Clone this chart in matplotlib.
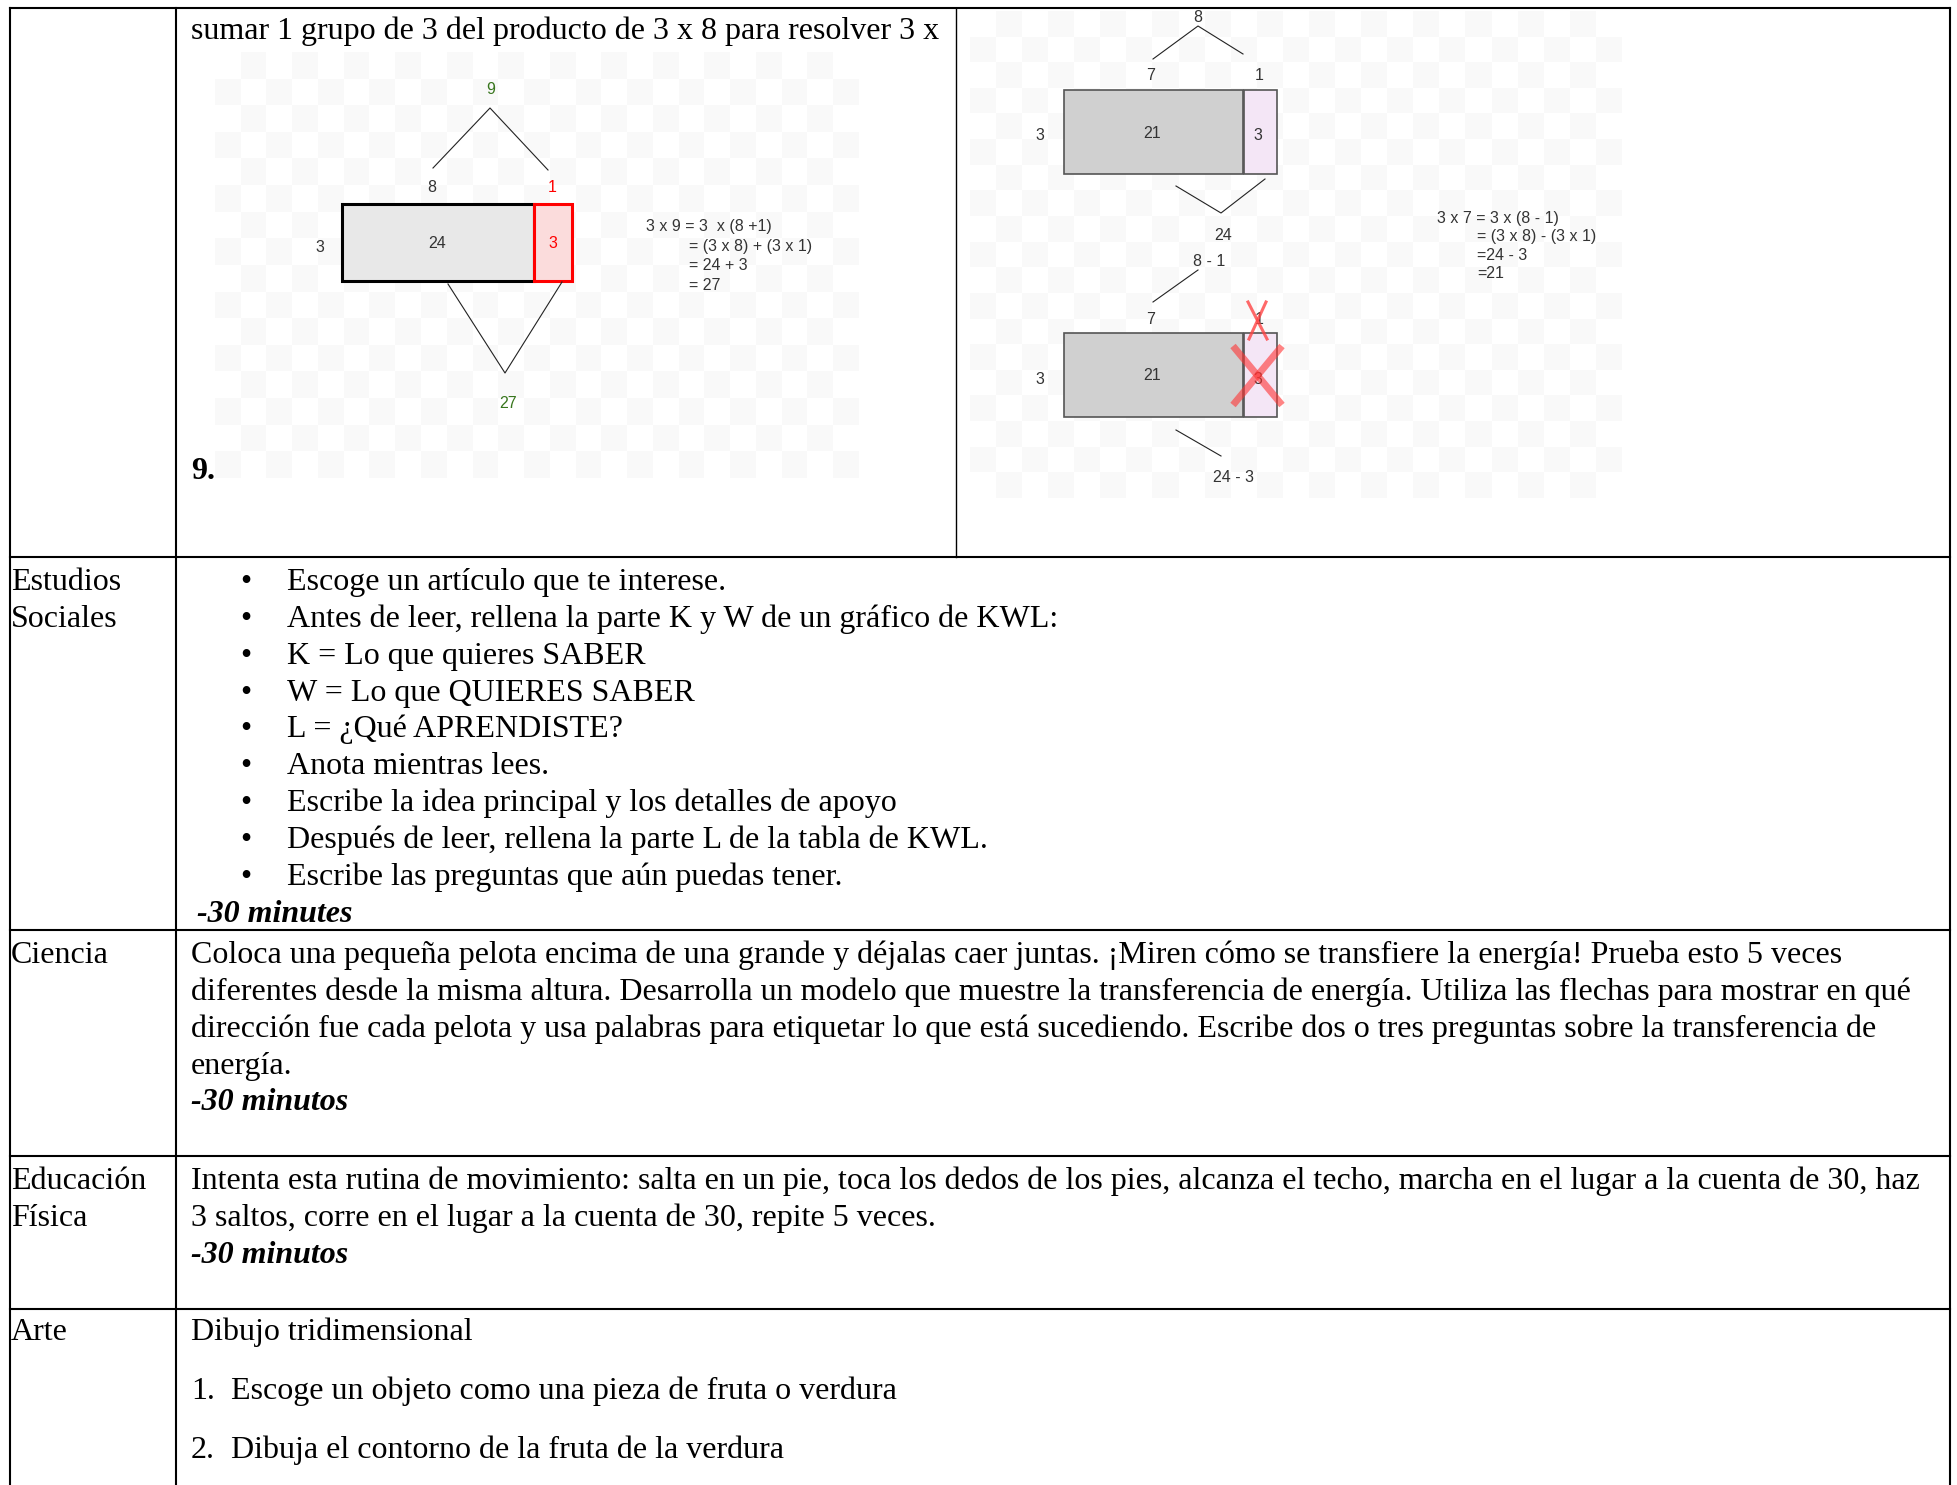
import numpy as np
import matplotlib.pyplot as plt
from matplotlib.colors import ListedColormap
from matplotlib.patches import Rectangle

'''Page content'''

subjects = [["Estudios", "Sociales"], ["Ciencia"], ["Educación", "Física"], ["Arte"]]

math_intro = "sumar 1 grupo de 3 del producto de 3 x 8 para resolver 3 x"
math_number = "9."

social_bullets = [
    "Escoge un artículo que te interese.",
    "Antes de leer, rellena la parte K y W de un gráfico de KWL:",
    "K = Lo que quieres SABER",
    "W = Lo que QUIERES SABER",
    "L = ¿Qué APRENDISTE?",
    "Anota mientras lees.",
    "Escribe la idea principal y los detalles de apoyo",
    "Después de leer, rellena la parte L de la tabla de KWL.",
    "Escribe las preguntas que aún puedas tener.",
]
social_time = "-30 minutes"

science_lines = [
    "Coloca una pequeña pelota encima de una grande y déjalas caer juntas. ¡Miren cómo se transfiere la energía! Prueba esto 5 veces",
    "diferentes desde la misma altura. Desarrolla un modelo que muestre la transferencia de energía. Utiliza las flechas para mostrar en qué",
    "dirección fue cada pelota y usa palabras para etiquetar lo que está sucediendo. Escribe dos o tres preguntas sobre la transferencia de",
    "energía.",
]
science_time = "-30 minutos"

pe_lines = [
    "Intenta esta rutina de movimiento: salta en un pie, toca los dedos de los pies, alcanza el techo, marcha en el lugar a la cuenta de 30, haz",
    "3 saltos, corre en el lugar a la cuenta de 30, repite 5 veces.",
]
pe_time = "-30 minutos"

art_title = "Dibujo tridimensional"
art_steps = ["Escoge un objeto como una pieza de fruta o verdura",
             "Dibuja el contorno de la fruta de la verdura"]

# left diagram: 3 x 9 = 3 x (8 + 1)
add_side = "3"
add_whole = "9"
add_parts = ["8", "1"]
add_products = ["24", "3"]
add_total = "27"
add_eq = ["3 x 9 = 3  x (8 +1)", "= (3 x 8) + (3 x 1)", "= 24 + 3", "= 27"]

# right diagram: 3 x 7 = 3 x (8 - 1)
sub_side = "3"
sub_whole = "8"
sub_parts = ["7", "1"]
sub_products = ["21", "3"]
sub_sum = "24"
sub_diff = "8 - 1"
sub_result = "24 - 3"
sub_eq = ["3 x 7 = 3 x (8 - 1)", "= (3 x 8) - (3 x 1)", "=24 - 3", "=21"]

'''End page content'''

W, H = 1958, 1485
SERIF = ["Liberation Serif", "DejaVu Serif"]
SANS = ["Liberation Sans", "DejaVu Sans"]
FS = 23        # body text size
DFS = 11.5     # diagram text size
LINE = 36.84   # body line spacing (px)
INK = "#333333"


def body(ax, x, y, s, **kw):
    ax.text(x, y, s, family=SERIF, fontsize=FS, va="baseline", ha="left", **kw)


def small(ax, x, y, s, color=INK, ha="center"):
    ax.text(x, y, s, family=SANS, fontsize=DFS, va="center", ha=ha, color=color)


# faint transparency checkerboard behind the pasted images
def checker(ax, x0, x1, y0, y1, cell=26):
    nx = max(1, round((x1 - x0) / cell))
    ny = max(1, round((y1 - y0) / cell))
    grid = np.indices((ny, nx)).sum(axis=0) % 2
    ax.imshow(grid, cmap=ListedColormap(["#ffffff", "#f9f9f9"]), interpolation="nearest",
              extent=[x0, x1, y1, y0], aspect="auto", zorder=0)


def main():
    fig = plt.figure(figsize=(W / 100, H / 100), dpi=100)
    ax = fig.add_axes([0, 0, 1, 1])

    # ---- maths row images ----
    checker(ax, 215, 859, 52, 478)
    checker(ax, 970, 1622, 11, 498)

    ax.set_xlim(0, W)
    ax.set_ylim(H, 0)
    ax.axis("off")

    # table grid
    for y in [8, 557, 930, 1156, 1309]:
        ax.plot([10, 1950], [y, y], color="black", lw=1.5, zorder=5)
    for x in [10, 176, 1950]:
        ax.plot([x, x], [8, H], color="black", lw=1.5, zorder=5)
    ax.plot([956, 956], [8, 557], color="black", lw=1.0, zorder=5)

    # subject labels
    label_rows = [590, 963, 1189, 1340]
    for lines, y in zip(subjects, label_rows):
        for i, s in enumerate(lines):
            body(ax, 11, y + i * LINE, s)

    body(ax, 191, 39, math_intro)
    body(ax, 191, 479, math_number, weight="bold")

    # left diagram
    ax.add_patch(Rectangle((342, 204), 192, 77, facecolor="#e8e8e8", edgecolor="black", lw=2.2, zorder=2))
    ax.add_patch(Rectangle((534, 204), 38, 77, facecolor="#fbdcdc", edgecolor="#ff0000", lw=2.2, zorder=2))
    ax.plot([433, 490, 548], [168, 108, 170], color="#222222", lw=0.8, zorder=2)
    ax.plot([448, 505, 562], [284, 373, 282], color="#222222", lw=0.8, zorder=2)
    small(ax, 491, 90, add_whole, color="#38761d")
    small(ax, 432, 187, add_parts[0])
    small(ax, 552, 187, add_parts[1], color="#ff0000")
    small(ax, 320, 247, add_side)
    small(ax, 437, 243, add_products[0])
    small(ax, 553, 243, add_products[1], color="#ff0000")
    small(ax, 508, 403, add_total, color="#38761d")
    small(ax, 646, 226, add_eq[0], ha="left")
    for i, s in enumerate(add_eq[1:]):
        small(ax, 689, 246 + 20 * i, s, ha="left")

    # right diagram
    for top in [90, 333]:
        ax.add_patch(Rectangle((1064, top), 179, 84, facecolor="#d0d0d0", edgecolor="#555555", lw=1.2, zorder=2))
        ax.add_patch(Rectangle((1244, top), 33, 84, facecolor="#f4e6f6", edgecolor="#555555", lw=1.2, zorder=2))
        small(ax, 1040, top + 46, sub_side)
        small(ax, 1152, top + 43, sub_products[0])
        small(ax, 1258, top + 46, sub_products[1])
    ax.plot([1153, 1198, 1243], [59, 26, 54], color="#222222", lw=0.8, zorder=2)
    ax.plot([1176, 1221, 1265], [186, 213, 179], color="#222222", lw=0.8, zorder=2)
    ax.plot([1198, 1153], [270, 302], color="#222222", lw=0.8, zorder=2)
    ax.plot([1176, 1221], [430, 456], color="#222222", lw=0.8, zorder=2)
    small(ax, 1198, 17, sub_whole)
    small(ax, 1151, 76, sub_parts[0])
    small(ax, 1259, 76, sub_parts[1])
    small(ax, 1223, 235, sub_sum)
    small(ax, 1209, 261, sub_diff)
    small(ax, 1151, 319, sub_parts[0])
    small(ax, 1259, 319, sub_parts[1])
    small(ax, 1234, 478, sub_result)
    # crossed-out pieces
    ax.plot([1248, 1267], [302, 339], color="#ff4444", lw=2.2, alpha=0.8, zorder=3)
    ax.plot([1266, 1249], [302, 339], color="#ff4444", lw=2.2, alpha=0.8, zorder=3)
    ax.plot([1233, 1282], [346, 405], color="#ff3333", lw=5, alpha=0.6, zorder=3, solid_capstyle="butt")
    ax.plot([1282, 1233], [346, 405], color="#ff3333", lw=5, alpha=0.6, zorder=3, solid_capstyle="butt")
    small(ax, 1437, 219, sub_eq[0], ha="left")
    for i, s in enumerate(sub_eq[1:]):
        small(ax, 1477, 237 + 18 * i, s, ha="left")

    # ---- social studies ----
    for i, s in enumerate(social_bullets):
        y = 590 + i * LINE
        body(ax, 240, y, "•")
        body(ax, 287, y, s)
    body(ax, 197, 590 + 9 * LINE, social_time, weight="bold", style="italic")

    # ---- science ----
    for i, s in enumerate(science_lines):
        body(ax, 191, 963 + i * LINE, s)
    body(ax, 191, 963 + 4 * LINE, science_time, weight="bold", style="italic")

    # ---- physical education ----
    for i, s in enumerate(pe_lines):
        body(ax, 191, 1189 + i * LINE, s)
    body(ax, 191, 1189 + 2 * LINE, pe_time, weight="bold", style="italic")

    # ---- art ----
    body(ax, 191, 1340, art_title)
    for i, s in enumerate(art_steps):
        y = 1399 + i * 59
        body(ax, 191, y, f"{i + 1}.")
        body(ax, 231, y, s)

    fig.savefig("out.png", dpi=100)


if __name__ == "__main__":
    main()
